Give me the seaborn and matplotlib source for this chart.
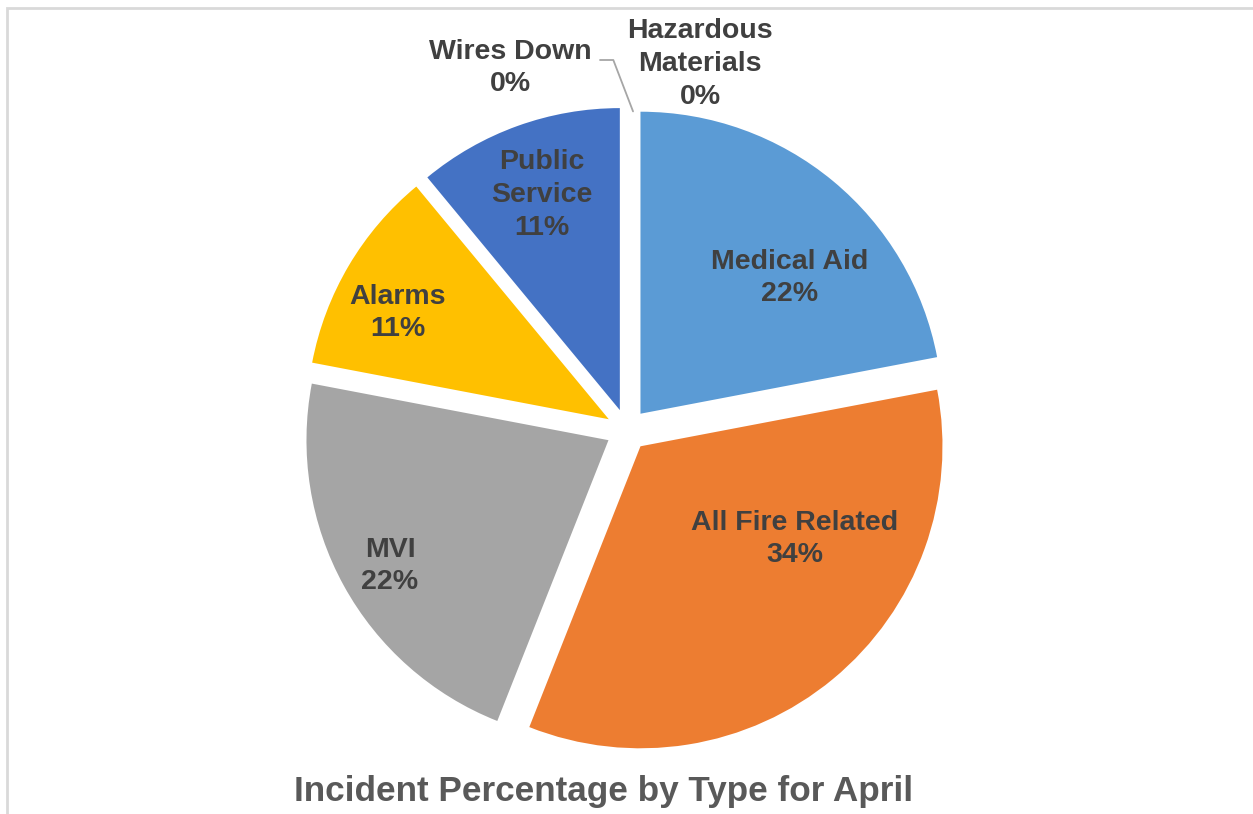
import matplotlib
matplotlib.use("Agg")
import matplotlib.pyplot as plt
import matplotlib.patches as mpatches
import seaborn as sns
import numpy as np

# incident data for April
categories = ["Medical Aid", "All Fire Related", "MVI", "Alarms",
              "Public Service", "Wires Down", "Hazardous Materials"]
percentages = [22, 34, 22, 11, 11, 0, 0]
label_texts = ["Medical Aid\n22%", "All Fire Related\n34%", "MVI\n22%", "Alarms\n11%",
               "Public\nService\n11%", "Wires Down\n0%", "Hazardous\nMaterials\n0%"]
colors = ["#5B9BD5", "#ED7D31", "#A5A5A5", "#FFC000", "#4472C4", "#70AD47", "#255E91"]

sns.set_theme(style="white")
plt.rcParams["font.family"] = ["Liberation Sans", "DejaVu Sans"]

fig = plt.figure(figsize=(12.53, 8.14), dpi=100)
# pie centre ~ (627, 430) px, radius ~302 px
CX, CY, R = 627, 430, 302
L = 1.3
S = 2 * L * R
ax = fig.add_axes([(CX - S / 2) / 1253, (814 - CY - S / 2) / 814, S / 1253, S / 814])

def px(x, y):
    # pixel position -> data coordinates
    return (x - CX) / R, (CY - y) / R

explode = [0.07] * len(percentages)
wedges, _ = ax.pie(percentages, colors=sns.color_palette(colors), startangle=90,
                   counterclock=False, explode=explode, normalize=True,
                   wedgeprops=dict(linewidth=0))
ax.set_xlim(-L, L)
ax.set_ylim(-L, L)
ax.axis("off")

lab_kw = dict(ha="center", va="center", fontsize=20.5, fontweight="bold",
              color="#404040", linespacing=1.33)

# label centres (pixels), as placed in the original chart
label_px = [(790, 278), (795, 539), (390, 566), (398, 313), (542, 195),
            (510, 68), (700, 64)]
for txt, (x, y) in zip(label_texts, label_px):
    ax.text(*px(x, y), txt, clip_on=False, **lab_kw)

# leader line for the zero slice at the top
tip = wedges[5]
ang = np.deg2rad(tip.theta1)
tip_xy = (tip.center[0] + 1.0 * np.cos(ang) + 0.02, tip.center[1] + np.sin(ang) - 0.015)
ax.annotate("", xy=tip_xy, xytext=px(600, 60), annotation_clip=False,
            arrowprops=dict(arrowstyle="-", color="#A6A6A6", lw=1.3,
                            connectionstyle="angle,angleA=0,angleB=111,rad=0",
                            shrinkA=0, shrinkB=0))

fig.text(604 / 1253, 1 - 792 / 814, "Incident Percentage by Type for April",
         ha="center", va="center", fontsize=25.3, fontweight="bold", color="#595959",
         family=["Liberation Sans Narrow", "Liberation Sans", "DejaVu Sans"])

# chart border (only left and top edges visible in the crop)
fig.add_artist(mpatches.Rectangle((7 / 1253, -0.1), 1.2, 1.1 - 8 / 814,
                                  transform=fig.transFigure, fill=False,
                                  edgecolor="#D9D9D9", linewidth=2))

fig.savefig("out.png", dpi=100)
